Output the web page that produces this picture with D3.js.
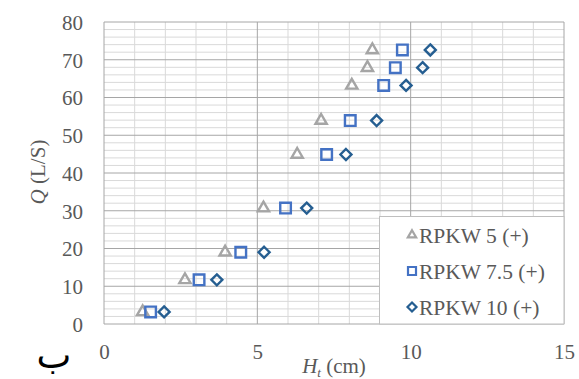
<!DOCTYPE html>
<html>
<head>
<meta charset="utf-8">
<script src="https://cdn.jsdelivr.net/npm/d3@7"></script>
<style>
  body { margin: 0; background: #fff; }
  text { font-family: "Liberation Serif", "Times New Roman", serif; fill: #595959; }
</style>
</head>
<body>
<script>
// flow rate levels (L/S), same for every series
const qValues = [3.2, 11.7, 19, 30.7, 44.9, 53.9, 63.2, 67.9, 72.6];
// Ht (cm) for each series
const htRpkw5 = [1.26, 2.64, 3.95, 5.2, 6.3, 7.08, 8.08, 8.59, 8.75];
const htRpkw75 = [1.52, 3.1, 4.46, 5.92, 7.26, 8.03, 9.12, 9.5, 9.73];
const htRpkw10 = [1.96, 3.68, 5.22, 6.61, 7.89, 8.89, 9.85, 10.39, 10.64];
const seriesNames = ["RPKW 5 (+)", "RPKW 7.5 (+)", "RPKW 10 (+)"];
const xTicks = [0, 5, 10, 15];
const yTicks = [0, 10, 20, 30, 40, 50, 60, 70, 80];

const width = 579, height = 379;
const plotLeft = 104, plotRight = 564, plotTop = 22, plotBottom = 324;
const serif = "'Liberation Serif', 'Times New Roman', serif";

const svg = d3.select("body").append("svg")
    .attr("width", width)
    .attr("height", height);

const x = d3.scaleLinear().domain([0, 15]).range([plotLeft, plotRight]);
const y = d3.scaleLinear().domain([0, 80]).range([plotBottom, plotTop]);

// minor grid
svg.append("g").selectAll("line")
    .data(d3.range(0, 81, 2).filter(v => v % 10 != 0))
    .enter().append("line")
    .attr("x1", plotLeft).attr("x2", plotRight)
    .attr("y1", d => y(d)).attr("y2", d => y(d))
    .attr("stroke", "#d9d9d9").attr("stroke-width", 1);
svg.append("g").selectAll("line")
    .data(d3.range(0, 16, 1).filter(v => v % 5 != 0))
    .enter().append("line")
    .attr("y1", plotTop).attr("y2", plotBottom)
    .attr("x1", d => x(d)).attr("x2", d => x(d))
    .attr("stroke", "#d9d9d9").attr("stroke-width", 1);

// major grid
svg.append("g").selectAll("line")
    .data(yTicks)
    .enter().append("line")
    .attr("x1", plotLeft).attr("x2", plotRight)
    .attr("y1", d => y(d)).attr("y2", d => y(d))
    .attr("stroke", "#a6a6a6").attr("stroke-width", 1);
svg.append("g").selectAll("line")
    .data(xTicks)
    .enter().append("line")
    .attr("y1", plotTop).attr("y2", plotBottom)
    .attr("x1", d => x(d)).attr("x2", d => x(d))
    .attr("stroke", "#a6a6a6").attr("stroke-width", 1);

// axes (labels only)
const xAxis = svg.append("g")
    .attr("transform", `translate(0,${plotBottom + 20})`)
    .call(d3.axisBottom(x).tickValues(xTicks).tickSize(0).tickPadding(0));
const yAxis = svg.append("g")
    .attr("transform", `translate(${plotLeft - 21},0)`)
    .call(d3.axisLeft(y).tickValues(yTicks).tickSize(0).tickPadding(0));
[xAxis, yAxis].forEach(a => {
    a.attr("font-family", null).attr("font-size", null);
    a.select(".domain").remove();
    a.selectAll("text")
        .style("font-family", serif)
        .style("font-size", "21px")
        .style("fill", "#595959");
});
yAxis.selectAll("text").attr("dy", "0.35em");

// markers
const triangle = d3.symbol().type(d3.symbolTriangle).size(55);
const square = s => `M${-s},${-s}H${s}V${s}H${-s}Z`;
const diamond = s => `M0,${-s}L${s},0L0,${s}L${-s},0Z`;

const series = [
    { name: seriesNames[0], xs: htRpkw5, color: "#a5a5a5", path: () => triangle() },
    { name: seriesNames[1], xs: htRpkw75, color: "#4472c4", path: () => square(5.3) },
    { name: seriesNames[2], xs: htRpkw10, color: "#255e91", path: () => diamond(5.5) }
];

series.forEach(s => {
    svg.append("g").selectAll("path")
        .data(s.xs.map((v, i) => [v, qValues[i]]))
        .enter().append("path")
        .attr("d", s.path())
        .attr("transform", d => `translate(${x(d[0])},${y(d[1])})`)
        .attr("fill", "none")
        .attr("stroke", s.color)
        .attr("stroke-width", 2.4);
});

// legend
const legend = svg.append("g");
legend.append("rect")
    .attr("x", 379.5).attr("y", 216.5)
    .attr("width", plotRight - 379.5).attr("height", plotBottom - 216.5)
    .attr("fill", "#fff").attr("stroke", "#bfbfbf");
series.forEach((s, i) => {
    const cy = 235 + i * 36;
    legend.append("path")
        .attr("d", i == 0 ? d3.symbol().type(d3.symbolTriangle).size(30)() : (i == 1 ? square(4) : diamond(4.5)))
        .attr("transform", `translate(412,${cy})`)
        .attr("fill", "none")
        .attr("stroke", s.color)
        .attr("stroke-width", 2.2);
    legend.append("text")
        .attr("x", 419).attr("y", cy)
        .attr("dy", "0.35em")
        .style("font-size", "21.5px")
        .text(s.name);
});

// axis titles
const yTitle = svg.append("text")
    .attr("transform", "translate(45,172) rotate(-90)")
    .attr("text-anchor", "middle")
    .style("font-size", "21px");
yTitle.append("tspan").attr("font-style", "italic").text("Q");
yTitle.append("tspan").text(" (L/S)");

const xTitle = svg.append("text")
    .attr("x", 334).attr("y", 373)
    .attr("text-anchor", "middle")
    .style("font-size", "21px");
xTitle.append("tspan").attr("font-style", "italic").text("H");
xTitle.append("tspan").attr("font-style", "italic").style("font-size", "13px").attr("dy", 4).text("t");
xTitle.append("tspan").attr("dy", -4).text(" (cm)");

svg.append("text")
    .attr("x", 54).attr("y", 368)
    .attr("text-anchor", "middle")
    .style("font-family", "'DejaVu Serif', 'DejaVu Sans', serif")
    .style("font-size", "37px")
    .style("fill", "#000")
    .text("ب");
</script>
</body>
</html>
